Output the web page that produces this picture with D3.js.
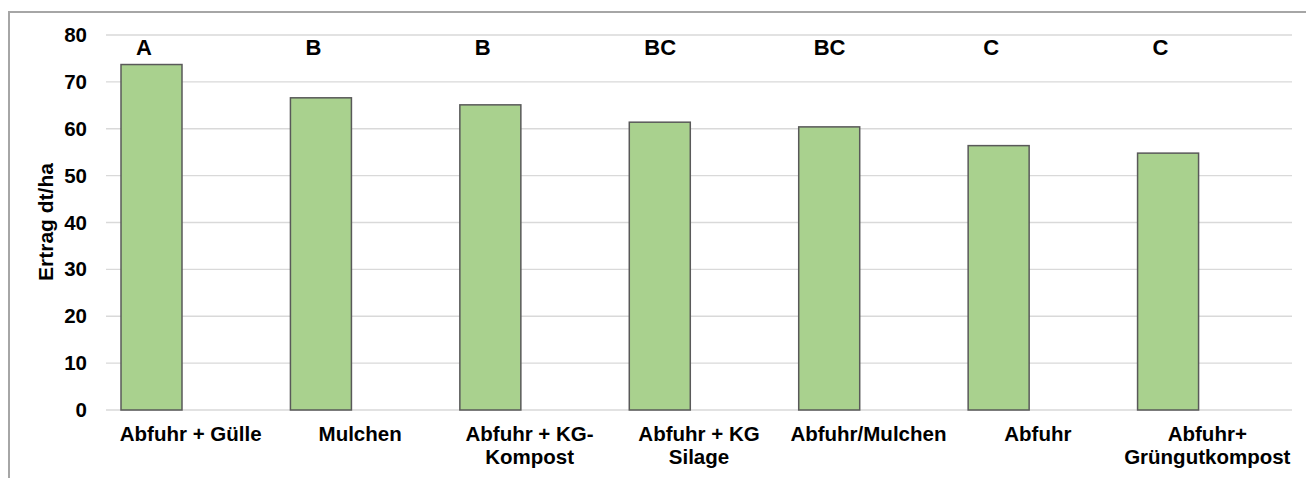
<!DOCTYPE html>
<html><head><meta charset="utf-8">
<script src="https://cdn.jsdelivr.net/npm/d3@7"></script>
<style>
html,body{margin:0;padding:0;background:#fff;}
svg{display:block;font-family:"Liberation Sans",Arial,sans-serif;font-weight:bold;}
</style></head>
<body>
<svg id="chart" width="1306" height="478"></svg>
<script>
const categories = [
  ["Abfuhr + Gülle"],
  ["Mulchen"],
  ["Abfuhr + KG-", "Kompost"],
  ["Abfuhr + KG", "Silage"],
  ["Abfuhr/Mulchen"],
  ["Abfuhr"],
  ["Abfuhr+", "Grüngutkompost"]
];
const ertrag = [73.7, 66.6, 65.1, 61.4, 60.4, 56.4, 54.8];
const letters = ["A", "B", "B", "BC", "BC", "C", "C"];
const yTicks = [0, 10, 20, 30, 40, 50, 60, 70, 80];
const yTitle = "Ertrag dt/ha";

(function () {
const svg = d3.select("#chart");
const mLeft = 106, mRight = 1292, mTop = 35, mBottom = 410;

// frame
svg.append("rect").attr("x", 9).attr("y", 12).attr("width", 1320).attr("height", 500)
  .attr("fill", "none").attr("stroke", "#a6a6a6").attr("stroke-width", 2);

const x = d3.scaleBand().domain(d3.range(categories.length)).range([mLeft, mRight]).padding(0);
const y = d3.scaleLinear().domain([0, 80]).range([mBottom, mTop]);

// gridlines
svg.append("g").selectAll("line").data(yTicks).join("line")
  .attr("x1", mLeft).attr("x2", mRight)
  .attr("y1", d => y(d)).attr("y2", d => y(d))
  .attr("stroke", "#d9d9d9").attr("stroke-width", 1.3);

// y axis labels
const yAxis = d3.axisLeft(y).tickValues(yTicks).tickSize(0).tickPadding(0);
const ya = svg.append("g").attr("transform", "translate(87,0)").call(yAxis);
ya.select(".domain").remove();
ya.selectAll("text").attr("font-size", 20.5).attr("font-weight", "bold")
  .attr("font-family", "Liberation Sans, Arial, sans-serif").attr("fill", "#000");

// y title
svg.append("text").attr("transform", "translate(53,222) rotate(-90)")
  .attr("text-anchor", "middle").attr("font-size", 21).attr("fill", "#000").text(yTitle);

// bars
const barOffset = 15, barW = 61;
svg.append("g").selectAll("rect").data(ertrag).join("rect")
  .attr("x", (d, i) => x(i) + barOffset)
  .attr("width", barW)
  .attr("y", d => y(d))
  .attr("height", d => y(0) - y(d))
  .attr("fill", "#a9d18e").attr("stroke", "#595959").attr("stroke-width", 1.5);

// significance letters
svg.append("g").selectAll("text").data(letters).join("text")
  .attr("x", (d, i) => x(i) + barOffset + 15)
  .attr("y", 55)
  .attr("font-size", 22).attr("fill", "#000").text(d => d);

// x labels
const xl = svg.append("g").selectAll("text").data(categories).join("text")
  .attr("x", (d, i) => x(i) + x.bandwidth() / 2)
  .attr("y", 441).attr("text-anchor", "middle").attr("font-size", 20.5).attr("fill", "#000");
xl.selectAll("tspan").data(d => d).join("tspan")
  .attr("x", function() { return this.parentNode.getAttribute("x"); })
  .attr("dy", (d, j) => j === 0 ? 0 : 23)
  .text(d => d);
})();
</script>
</body></html>
